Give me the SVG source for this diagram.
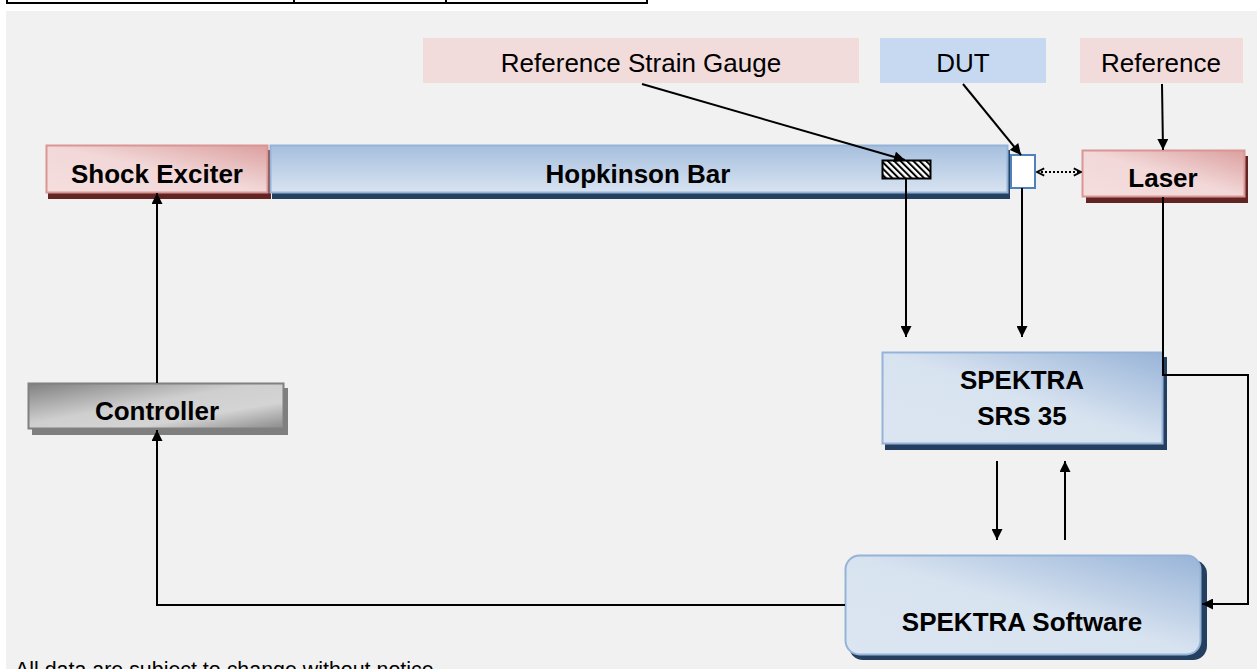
<svg xmlns="http://www.w3.org/2000/svg" width="1257" height="669" viewBox="0 0 1257 669">
<style>
.b{font-family:"Liberation Sans",Arial,sans-serif;font-weight:bold;font-size:26px;fill:#000;text-anchor:middle}
.r{font-family:"Liberation Sans",Arial,sans-serif;font-size:26px;fill:#000;text-anchor:middle}
.ln{fill:none;stroke:#000;stroke-width:2}
</style>
<defs>
<linearGradient id="gPink" x1="0" y1="1" x2="1" y2="0">
<stop offset="0" stop-color="#f5dede"/><stop offset="0.5" stop-color="#f2d8d8"/><stop offset="1" stop-color="#dc9f9f"/>
</linearGradient>
<linearGradient id="gBlue" x1="0" y1="1" x2="1" y2="0">
<stop offset="0" stop-color="#dce6f2"/><stop offset="0.5" stop-color="#d8e3f0"/><stop offset="1" stop-color="#98b4d8"/>
</linearGradient>
<linearGradient id="gBar" x1="0" y1="0" x2="0" y2="1">
<stop offset="0" stop-color="#a6bfde"/><stop offset="1" stop-color="#d8e3f1"/>
</linearGradient>
<linearGradient id="gGray" x1="0" y1="0" x2="1" y2="1">
<stop offset="0" stop-color="#808080"/><stop offset="0.45" stop-color="#cfcfcf"/><stop offset="0.7" stop-color="#d4d4d4"/><stop offset="1" stop-color="#8a8a8a"/>
</linearGradient>
<pattern id="hatch" width="4.5" height="4.5" patternUnits="userSpaceOnUse" patternTransform="rotate(-45)">
<rect width="4.5" height="4.5" fill="#fff"/><rect width="2" height="4.5" fill="#000"/>
</pattern>
<marker id="ah" viewBox="0 0 10 10" refX="10" refY="5" markerWidth="6" markerHeight="5.5" orient="auto" markerUnits="strokeWidth">
<path d="M0,0 L10,5 L0,10 z" fill="#000"/>
</marker>
<marker id="oh" viewBox="0 0 10 10" refX="9" refY="5" markerWidth="9" markerHeight="10" orient="auto-start-reverse" markerUnits="userSpaceOnUse">
<path d="M1,1 L9,5 L1,9" fill="none" stroke="#000" stroke-width="2"/>
</marker>
</defs>
<rect x="0" y="0" width="1257" height="669" fill="#fff"/>
<g id="topTable" fill="none" stroke="#000" stroke-width="2">
<path d="M7,0 V3 H647 V0 M294,0 V3 M446,0 V3"/>
</g>
<rect x="6" y="11" width="1251" height="658" fill="#f1f1f1"/>

<g id="labelStrain"><rect x="423" y="38" width="436" height="45" fill="#f2dcdb"/><text class="r" x="641" y="72">Reference Strain Gauge</text></g>
<g id="labelDUT"><rect x="880" y="38" width="166" height="45" fill="#c6d9f1"/><text class="r" x="963" y="72">DUT</text></g>
<g id="labelReference"><rect x="1080" y="38" width="163" height="45" fill="#f2dcdb"/><text class="r" x="1161" y="72">Reference</text></g>

<g id="shockExciter">
<rect x="48" y="150" width="223" height="49" fill="#632523"/>
<rect x="46.5" y="145.5" width="221" height="47" fill="url(#gPink)" stroke="#d99694" stroke-width="2"/>
<text class="b" x="157" y="183">Shock Exciter</text>
</g>
<g id="hopkinsonBar">
<rect x="272" y="150" width="738" height="49" fill="#243f60"/>
<rect x="270.5" y="145.5" width="737" height="47" fill="url(#gBar)" stroke="#95b3d7" stroke-width="2"/>
<text class="b" x="638" y="183">Hopkinson Bar</text>
</g>
<g id="strainGauge"><rect x="882.5" y="160.5" width="48" height="18" fill="url(#hatch)" stroke="#000" stroke-width="2"/></g>
<g id="dut"><rect x="1011" y="155" width="24" height="33" fill="#fff" stroke="#4f81bd" stroke-width="2"/></g>
<g id="laser">
<rect x="1086" y="156" width="162" height="47" fill="#632523"/>
<rect x="1082.5" y="150.5" width="162" height="46" fill="url(#gPink)" stroke="#d99694" stroke-width="2"/>
<text class="b" x="1163" y="187">Laser</text>
</g>
<g id="controller">
<rect x="32" y="388" width="256" height="47" fill="#7f7f7f"/>
<rect x="28.5" y="383.5" width="255" height="45" fill="url(#gGray)" stroke="#808080" stroke-width="2"/>
<text class="b" x="157" y="420">Controller</text>
</g>
<g id="srs35">
<rect x="885" y="357" width="282" height="93" fill="#243f60"/>
<rect x="882.5" y="352.5" width="280" height="91" fill="url(#gBlue)" stroke="#95b3d7" stroke-width="2"/>
<text class="b" x="1022" y="389">SPEKTRA</text>
<text class="b" x="1022" y="425">SRS 35</text>
</g>
<g id="software">
<rect x="849" y="560" width="358" height="100" rx="14" fill="#243f60"/>
<rect x="845.5" y="555.5" width="355" height="99" rx="14" fill="url(#gBlue)" stroke="#95b3d7" stroke-width="2"/>
<text class="b" x="1022" y="631">SPEKTRA Software</text>
</g>

<g id="connectors">
<line class="ln" x1="642" y1="84" x2="905" y2="160" marker-end="url(#ah)"/>
<line class="ln" x1="963" y1="84" x2="1021" y2="155" marker-end="url(#ah)"/>
<line class="ln" x1="1162" y1="84" x2="1163" y2="150" marker-end="url(#ah)"/>
<line class="ln" x1="1037" y1="172" x2="1081" y2="172" stroke-dasharray="2,2" marker-start="url(#oh)" marker-end="url(#oh)"/>
<line class="ln" x1="906" y1="179" x2="906" y2="337" marker-end="url(#ah)"/>
<line class="ln" x1="1022" y1="188" x2="1022" y2="337" marker-end="url(#ah)"/>
<polyline class="ln" points="1163,197 1163,375 1248,375 1248,604 1202,604" marker-end="url(#ah)"/>
<line class="ln" x1="997" y1="461" x2="997" y2="540" marker-end="url(#ah)"/>
<line class="ln" x1="1065" y1="540" x2="1065" y2="461" marker-end="url(#ah)"/>
<line class="ln" x1="157" y1="383" x2="157" y2="193" marker-end="url(#ah)"/>
<polyline class="ln" points="845,605 157,605 157,430" marker-end="url(#ah)"/>
</g>
<text x="15" y="677" font-family="Liberation Sans, Arial, sans-serif" font-size="21.4" fill="#000">All data are subject to change without notice</text>
</svg>
